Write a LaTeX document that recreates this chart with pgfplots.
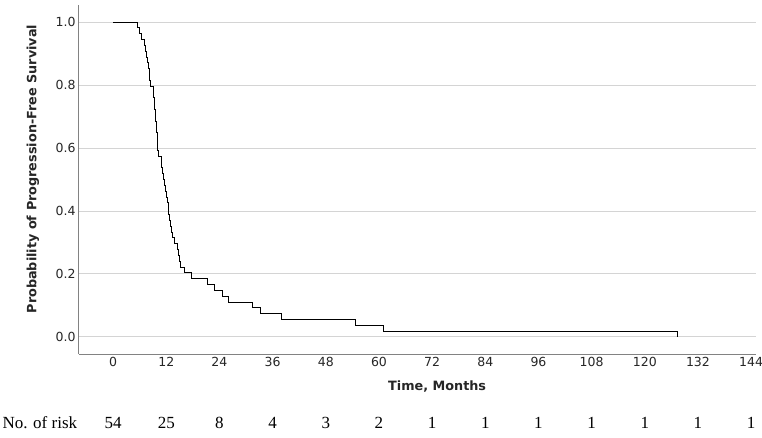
\documentclass[border=0pt]{standalone}
\usepackage{pgfplots}
\pgfplotsset{compat=1.18}
\usepackage{fontspec}
\setmainfont{DejaVu Sans}
\newfontfamily\riskfont{Liberation Serif}

\definecolor{gridgray}{RGB}{212,212,212}
\definecolor{axisgray}{RGB}{130,130,130}

% Kaplan-Meier estimate, 54 patients (time in months, survival)
\pgfplotstableread{
t S
0 1.0000
5.5 0.9815
5.9 0.9630
6.3 0.9444
7.1 0.9259
7.3 0.9074
7.5 0.8889
7.7 0.8704
7.9 0.8519
8.1 0.8333
8.3 0.8148
8.5 0.7963
9.1 0.7778
9.2 0.7593
9.3 0.7407
9.4 0.7222
9.5 0.7037
9.6 0.6852
9.7 0.6667
9.8 0.6481
9.9 0.6296
10.0 0.6111
10.1 0.5926
10.2 0.5741
10.8 0.5556
10.95 0.5370
11.1 0.5185
11.25 0.5000
11.5 0.4815
11.75 0.4630
12.0 0.4444
12.2 0.4259
12.4 0.4074
12.6 0.3889
12.8 0.3704
13.0 0.3519
13.2 0.3333
13.5 0.3148
13.8 0.2963
14.5 0.2778
14.7 0.2593
14.9 0.2407
15.1 0.2222
16.0 0.2037
17.6 0.1852
21.4 0.1667
22.9 0.1481
24.7 0.1296
26.0 0.1111
31.5 0.0926
33.2 0.0741
38.1 0.0556
54.8 0.0370
61.0 0.0185
127.4 0.0000
}\kmdata

\pgfplotstableread{
t y n
0 -0.273 54
12 -0.273 25
24 -0.273 8
36 -0.273 4
48 -0.273 3
60 -0.273 2
72 -0.273 1
84 -0.273 1
96 -0.273 1
108 -0.273 1
120 -0.273 1
132 -0.273 1
144 -0.273 1
}\riskdata

\begin{document}
\begin{tikzpicture}
\begin{axis}[
  at={(0pt,0pt)}, anchor=south west,
  scale only axis, width=677pt, height=349pt,
  xmin=-7.7, xmax=145.1, ymin=-0.054, ymax=1.054,
  axis x line*=bottom, axis y line*=left,
  axis line style={axisgray, line width=1pt},
  xtick={0,12,...,144}, ytick={0,0.2,0.4,0.6,0.8,1.0},
  major tick length=0pt,
  ymajorgrids, grid style={gridgray, line width=1pt},
  tick label style={font=\fontsize{12.5}{14}\selectfont, text=black!85},
  /pgf/number format/assume math mode=true,
  yticklabel style={/pgf/number format/fixed, /pgf/number format/fixed zerofill, /pgf/number format/precision=1},
  xlabel={Time, Months},
  ylabel={Probability of Progression-Free Survival},
  label style={font=\fontsize{12.8}{14}\selectfont\bfseries, text=black!85},
  xlabel style={at={(axis description cs:0.529,-0.0946)}, anchor=center, inner sep=0pt},
  ylabel style={at={(axis description cs:-0.068,0.53)}, anchor=center, inner sep=0pt},
  clip=false,
]
\addplot[const plot, black, line width=0.9pt] table[x=t, y=S] {\kmdata};

\addplot[draw=none, mark=none, nodes near coords, point meta=explicit symbolic,
  nodes near coords style={anchor=center, font=\riskfont\fontsize{17}{19}\selectfont}]
  table[x=t, y=y, meta=n] {\riskdata};
\node[anchor=west, inner sep=0pt, font=\riskfont\fontsize{17}{19}\selectfont] at (axis cs:-25,-0.273) {No. of risk};
\end{axis}
\pgfresetboundingbox
\useasboundingbox (-79pt,-83pt) rectangle (683pt,354pt);
\end{tikzpicture}
\end{document}
